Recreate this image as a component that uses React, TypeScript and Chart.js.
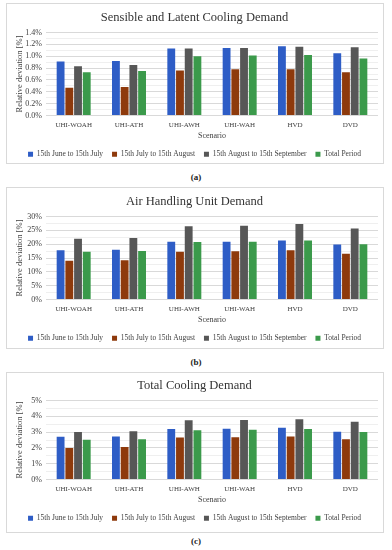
import React, { useEffect, useRef } from "react";
import { Chart, registerables } from "chart.js";
Chart.register(...registerables);

const scenarios = ["UHI-WOAH", "UHI-ATH", "UHI-AWH", "UHI-WAH", "HVD", "DVD"];
const seriesLabels = [
  "15th June to 15th July",
  "15th July to 15th August",
  "15th August to 15th September",
  "Total Period",
];
const seriesColors = ["#2E5DC6", "#8E3A0C", "#575757", "#3B9A4B"];

// (a) Sensible and Latent Cooling Demand [%]
const sensibleJuneJuly = [0.91, 0.92, 1.13, 1.14, 1.17, 1.05];
const sensibleJulyAug = [0.47, 0.48, 0.76, 0.78, 0.78, 0.73];
const sensibleAugSep = [0.83, 0.85, 1.13, 1.14, 1.16, 1.15];
const sensibleTotal = [0.73, 0.75, 1.0, 1.01, 1.02, 0.96];

// (b) Air Handling Unit Demand [%]
const ahuJuneJuly = [17.8, 18.0, 20.9, 20.9, 21.3, 19.9];
const ahuJulyAug = [14.0, 14.2, 17.3, 17.4, 17.8, 16.5];
const ahuAugSep = [22.0, 22.2, 26.5, 26.7, 27.3, 25.7];
const ahuTotal = [17.3, 17.5, 20.8, 20.9, 21.3, 20.0];

// (c) Total Cooling Demand [%]
const totalJuneJuly = [2.7, 2.72, 3.2, 3.21, 3.27, 3.02];
const totalJulyAug = [2.0, 2.05, 2.66, 2.68, 2.72, 2.55];
const totalAugSep = [3.0, 3.05, 3.75, 3.77, 3.82, 3.65];
const totalTotal = [2.52, 2.55, 3.12, 3.15, 3.2, 3.0];

const FONT = "'Liberation Serif', 'Times New Roman', serif";

type PanelProps = {
  title: string;
  series: number[][];
  yMax: number;
  yStep: number;
  decimals: number;
  top: number;
  height: number;
  tag: string;
  tagTop: number;
  padTop: number;
  titleGap: number;
  padBottom: number;
  xAxisHeight: number;
};

function Panel(p: PanelProps) {
  const ref = useRef<HTMLCanvasElement>(null);
  useEffect(() => {
    if (!ref.current) return;
    const isMajor = (v: number) => Math.abs(v / p.yStep - Math.round(v / p.yStep)) < 1e-6;
    const chart = new Chart(ref.current, {
      type: "bar",
      data: {
        labels: scenarios,
        datasets: p.series.map((d, i) => ({
          label: seriesLabels[i],
          data: d,
          backgroundColor: seriesColors[i],
          borderWidth: 0,
          categoryPercentage: 0.63,
          barPercentage: 0.9,
        })),
      },
      options: {
        responsive: false,
        animation: false,
        devicePixelRatio: 1,
        layout: { padding: { left: 4, right: 5, top: p.padTop, bottom: p.padBottom } },
        plugins: {
          title: {
            display: true,
            text: p.title,
            color: "#333333",
            font: { family: FONT, size: 12.5, weight: "normal" },
            padding: { top: 0, bottom: p.titleGap },
          },
          legend: {
            position: "bottom",
            labels: {
              boxWidth: 5,
              boxHeight: 5,
              padding: 9,
              color: "#404040",
              font: { family: FONT, size: 7.5 },
            },
          },
          tooltip: { enabled: false },
        },
        scales: {
          x: {
            grid: { display: false, drawTicks: false },
            border: { display: false },
            ticks: { color: "#404040", font: { family: FONT, size: 7 }, padding: 5 },
            title: {
              display: true,
              text: "Scenario",
              color: "#404040",
              font: { family: FONT, size: 8 },
              padding: { top: 0, bottom: 1 },
            },
            afterFit: (s: any) => {
              s.height = p.xAxisHeight;
            },
          },
          y: {
            min: 0,
            max: p.yMax,
            grid: {
              color: (ctx: any) => (isMajor(ctx.tick.value) ? "#d9d9d9" : "#efefef"),
              drawTicks: false,
            },
            border: { display: false },
            ticks: {
              stepSize: p.yStep / 2,
              autoSkip: false,
              color: "#404040",
              font: { family: FONT, size: 8 },
              padding: 4,
              callback: (v: any) =>
                isMajor(Number(v)) ? Number(v).toFixed(p.decimals) + "%" : "",
            },
            title: {
              display: true,
              text: "Relative deviation [%]",
              color: "#404040",
              font: { family: FONT, size: 8.5 },
              padding: { top: 4, bottom: 0 },
            },
            afterFit: (s: any) => {
              s.width = 35;
            },
          },
        },
      },
    });
    return () => chart.destroy();
  }, []);
  return (
    <>
      <div
        style={{
          position: "absolute",
          left: 6,
          top: p.top,
          width: 376,
          height: p.height,
          border: "1px solid #d9d9d9",
          background: "#fff",
        }}
      >
        <canvas ref={ref} width={376} height={p.height} />
      </div>
      <div
        style={{
          position: "absolute",
          left: 0,
          width: 392,
          top: p.tagTop,
          textAlign: "center",
          fontFamily: FONT,
          fontWeight: "bold",
          fontSize: 9,
          color: "#222",
        }}
      >
        {p.tag}
      </div>
    </>
  );
}

export default function App() {
  return (
    <div
      style={{
        position: "absolute",
        left: 0,
        top: 0,
        width: 392,
        height: 550,
        background: "#fff",
        overflow: "hidden",
      }}
    >
      <Panel
        title="Sensible and Latent Cooling Demand"
        series={[sensibleJuneJuly, sensibleJulyAug, sensibleAugSep, sensibleTotal]}
        yMax={1.4}
        yStep={0.2}
        decimals={1}
        top={3}
        height={159}
        tag="(a)"
        tagTop={172}
        padTop={6}
        titleGap={7.5}
        padBottom={-5}
        xAxisHeight={26}
      />
      <Panel
        title="Air Handling Unit Demand"
        series={[ahuJuneJuly, ahuJulyAug, ahuAugSep, ahuTotal]}
        yMax={30}
        yStep={5}
        decimals={0}
        top={187}
        height={160}
        tag="(b)"
        tagTop={357}
        padTop={6}
        titleGap={7.5}
        padBottom={-4}
        xAxisHeight={26}
      />
      <Panel
        title="Total Cooling Demand"
        series={[totalJuneJuly, totalJulyAug, totalAugSep, totalTotal]}
        yMax={5}
        yStep={1}
        decimals={0}
        top={372}
        height={159}
        tag="(c)"
        tagTop={536}
        padTop={5}
        titleGap={7.5}
        padBottom={0}
        xAxisHeight={26}
      />
    </div>
  );
}
